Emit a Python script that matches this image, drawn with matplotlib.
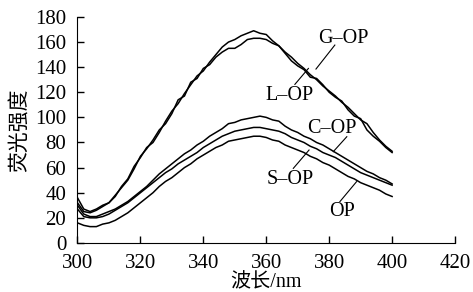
import matplotlib
matplotlib.use("Agg")
import matplotlib.pyplot as plt

plt.rcParams['font.family'] = ['Liberation Serif', 'Noto Sans CJK SC']

wavelength = list(range(300, 401, 2))
g_op = [36, 27, 25, 27, 30, 32, 37, 45, 51, 61, 68, 76, 80, 88, 97, 105, 111, 119, 126, 133, 137, 144, 150, 156, 160, 162, 165, 167, 169, 167, 166, 161, 157, 152, 148, 143, 139, 134, 130, 125, 121, 117, 112, 108, 103, 98, 95, 88, 82, 77, 73]
l_op = [32, 25, 24, 26, 29, 32, 38, 44, 50, 59, 69, 75, 82, 90, 95, 103, 114, 117, 128, 131, 139, 142, 148, 152, 155, 155, 158, 162, 163, 163, 162, 159, 157, 151, 145, 141, 138, 132, 131, 126, 120, 116, 113, 106, 101, 99, 90, 85, 81, 76, 72]
c_op = [30, 23, 21, 21, 23, 25, 27, 30, 33, 37, 41, 45, 50, 55, 59, 63, 67, 71, 74, 78, 81, 85, 88, 91, 95, 96, 98, 99, 100, 101, 100, 98, 97, 93, 90, 88, 85, 83, 80, 78, 75, 72, 69, 66, 63, 60, 57, 55, 52, 50, 47]
s_op = [27, 21, 20, 20, 21, 23, 26, 29, 32, 36, 40, 44, 48, 52, 56, 59, 63, 66, 69, 72, 76, 79, 82, 85, 87, 89, 90, 91, 92, 92, 91, 90, 89, 87, 84, 82, 80, 77, 75, 72, 70, 68, 65, 62, 59, 56, 54, 52, 50, 48, 46]
op = [16, 14, 13, 13, 15, 16, 18, 21, 24, 28, 32, 36, 40, 45, 49, 52, 56, 60, 63, 67, 70, 73, 76, 78, 81, 82, 83, 84, 85, 85, 84, 82, 81, 78, 76, 74, 72, 69, 67, 64, 62, 59, 56, 53, 51, 48, 46, 44, 42, 39, 37]

labels = ["G–OP", "L–OP", "C–OP", "S–OP", "OP"]
label_xy = [(384.4, 163), (367.5, 117.8), (380.8, 91.3), (367.5, 50.2), (384, 25)]
leader_from = [(381.8, 157.6), (369.1, 126.3), (385.6, 84.6), (368.6, 59.4), (383.4, 32.9)]
leader_to = [(375.8, 138.5), (373.4, 139), (381.3, 72.7), (373.6, 74), (388.7, 48.8)]

fig = plt.figure(figsize=(4.73, 2.92), dpi=100)
ax = fig.add_axes([0.1638, 0.168, 0.7982, 0.774])

for s in [g_op, l_op, c_op, s_op, op]:
    ax.plot(wavelength, s, color='black', lw=1.1)

for lab, (lx, ly), (fx, fy), (tx, ty) in zip(labels, label_xy, leader_from, leader_to):
    ax.text(lx, ly, lab, ha='center', va='center', fontsize=14.5)
    ax.plot([fx, tx], [fy, ty], color='black', lw=0.8)

ax.set_xlim(300, 420)
ax.set_ylim(0, 180)
ax.set_xticks(range(300, 421, 20))
ax.set_yticks(range(0, 181, 20))
ax.spines['top'].set_visible(False)
ax.spines['right'].set_visible(False)
ax.tick_params(direction='in', length=5, width=1, labelsize=15, pad=8)
ax.set_xlabel("波长/nm", fontsize=14.5, labelpad=0)
ax.set_ylabel("荧光强度", fontsize=15, labelpad=4)

fig.savefig("out.png", dpi=100)
